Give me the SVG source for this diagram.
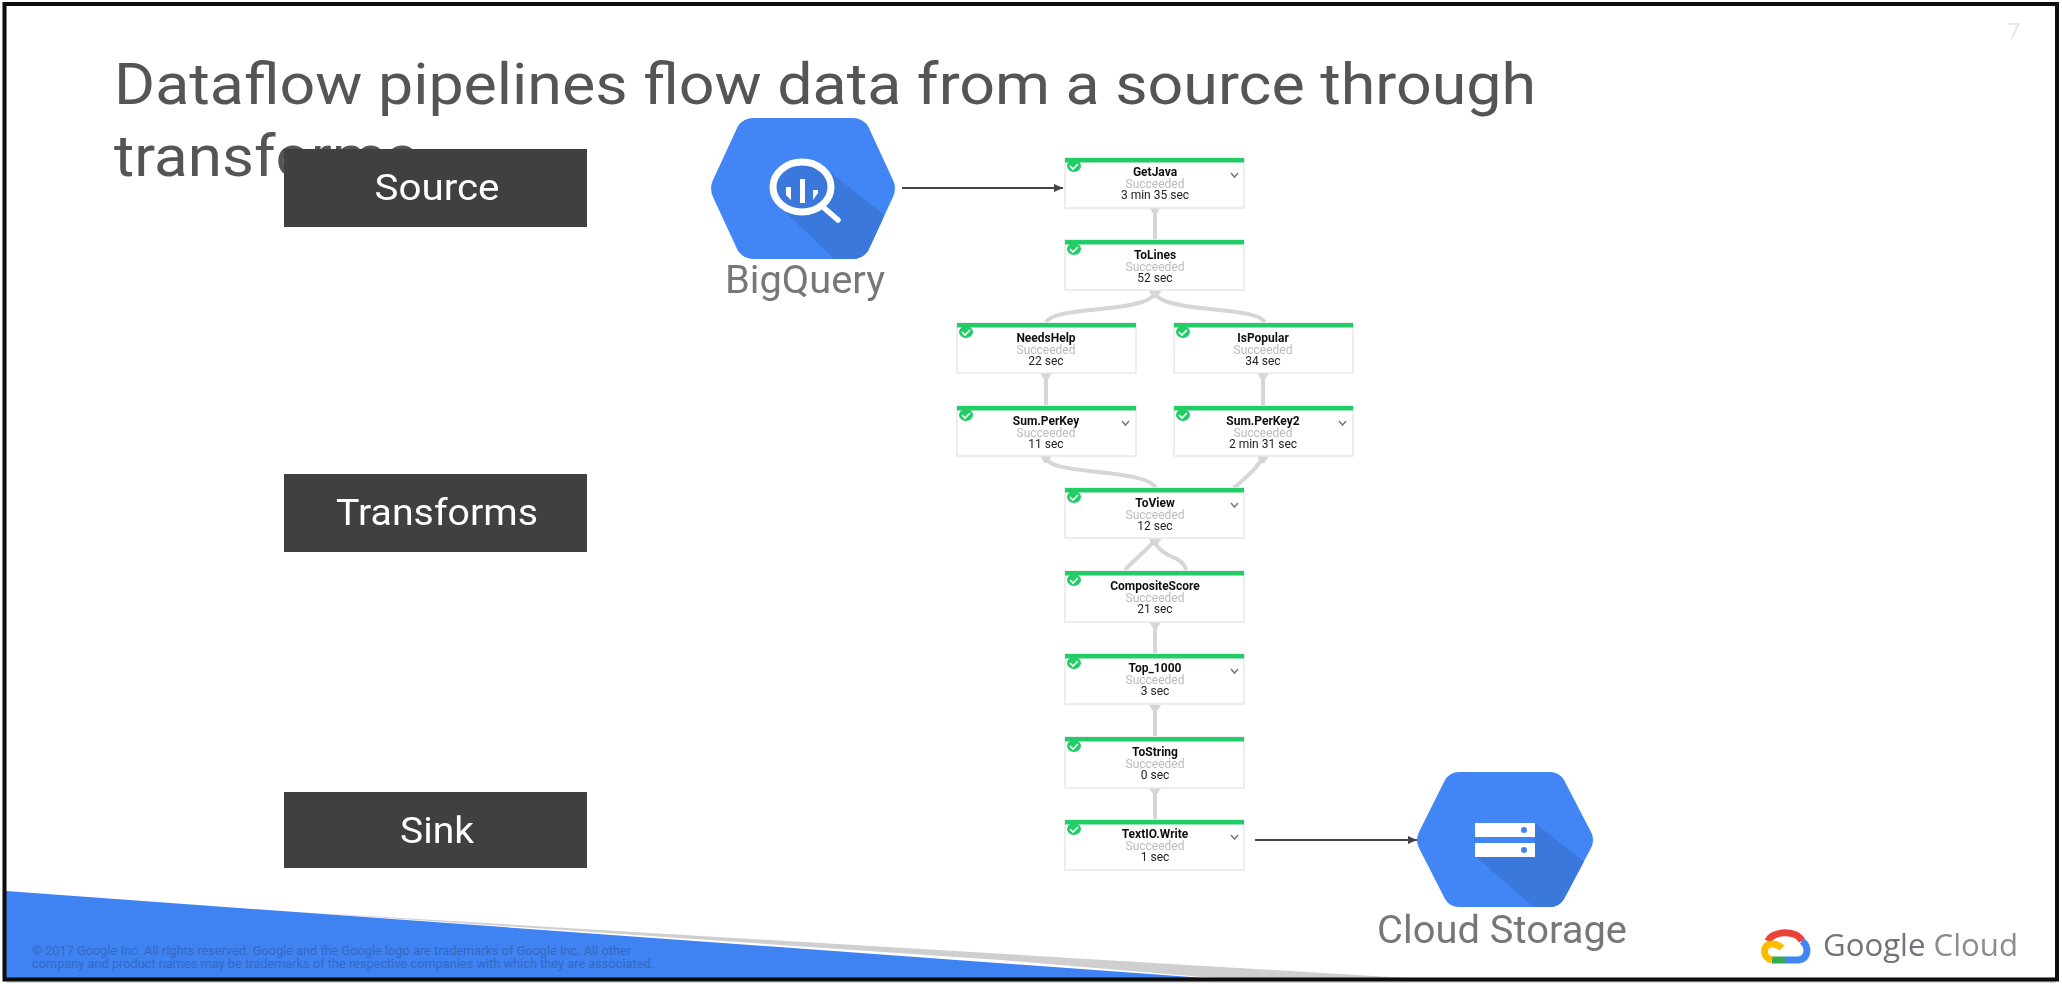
<svg xmlns="http://www.w3.org/2000/svg" width="2062" height="984" viewBox="0 0 2062 984">
<style>
.ttl{font-family:Roboto,"Liberation Sans",sans-serif;font-size:57px;fill:#555}
.lab{font-family:Roboto,"Liberation Sans",sans-serif;font-size:36px;fill:#fff;text-anchor:middle}
.svc{font-family:Roboto,"Liberation Sans",sans-serif;font-size:38px;fill:#777;text-anchor:middle}
.box{fill:#fff;stroke:#e8e8e8;stroke-width:1.5}
.bar{fill:#22cc66}
.chk{fill:#22cc66}
.tick{fill:none;stroke:#fff;stroke-width:1.6}
.n1{font-family:Roboto,"Liberation Sans",sans-serif;font-size:12px;font-weight:700;fill:#111;text-anchor:middle}
.n2{font-family:Roboto,"Liberation Sans",sans-serif;font-size:12px;fill:#bbb;text-anchor:middle}
.n3{font-family:Roboto,"Liberation Sans",sans-serif;font-size:12px;fill:#222;text-anchor:middle}
.chev{fill:none;stroke:#777;stroke-width:1.5}
.edge{fill:none;stroke:#d6d6d6;stroke-width:4;marker-start:url(#fan)}
.dark{fill:none;stroke:#444;stroke-width:2;marker-end:url(#head)}
.foot{font-family:Roboto,"Liberation Sans",sans-serif;font-size:12px;fill:#3469c4}
</style>
<defs>
<filter id="soft" x="-5%" y="-5%" width="110%" height="110%"><feGaussianBlur stdDeviation="0.7"/></filter>
<filter id="softer" x="-5%" y="-5%" width="110%" height="110%"><feGaussianBlur stdDeviation="0.6"/></filter>
<marker id="fan" markerUnits="userSpaceOnUse" markerWidth="14" markerHeight="8" refX="7" refY="0" orient="0"><path d="M1 0H13L8.500 7H5.500Z" fill="#d6d6d6"/></marker>
<marker id="head" markerUnits="userSpaceOnUse" markerWidth="10" markerHeight="8" refX="9" refY="4" orient="auto"><path d="M0 0L9 4L0 8Z" fill="#444"/></marker>
<clipPath id="hexA"><path d="M753 118H853Q862 118 868 126L893 180Q897 188 893 197L868 251Q862 259 853 259H753Q744 259 738 251L713 197Q709 188 713 180L738 126Q744 118 753 118Z"/></clipPath>
<clipPath id="hexB"><path d="M1459 772H1550Q1559 772 1564 780L1591 832Q1595 840 1591 848L1564 899Q1559 907 1550 907H1459Q1450 907 1445 899L1419 848Q1415 840 1419 832L1445 780Q1450 772 1459 772Z"/></clipPath>
</defs>
<rect width="2062" height="984" fill="#fff"/>
<g id="footer">
<polygon points="300,912 1407,978 1214,978 1000,960" fill="#cfcfcf"/>
<polygon points="6,891 1205,978 6,978" fill="#3f82f1"/>
<text class="foot" x="32" y="955" textLength="599" lengthAdjust="spacingAndGlyphs">© 2017 Google Inc. All rights reserved. Google and the Google logo are trademarks of Google Inc. All other</text>
<text class="foot" x="32" y="968" textLength="622" lengthAdjust="spacingAndGlyphs">company and product names may be trademarks of the respective companies with which they are associated.</text>
</g>
<g id="frame" filter="url(#softer)">
<line x1="6" y1="982" x2="2056" y2="982" stroke="#ccc" stroke-width="1.5"/>
<rect x="4.500" y="4" width="2052.500" height="975.500" fill="none" stroke="#0a0a0a" stroke-width="4"/>
</g>
<text x="2014" y="39" font-family="Roboto,'Liberation Sans',sans-serif" font-size="22" fill="#e6e6e6" text-anchor="middle" filter="url(#soft)">7</text>
<g id="title" filter="url(#softer)">
<text class="ttl" x="114" y="104" textLength="1422" lengthAdjust="spacingAndGlyphs">Dataflow pipelines flow data from a source through</text>
<text class="ttl" x="114" y="176" textLength="304" lengthAdjust="spacingAndGlyphs">transforms</text>
</g>
<g id="source" filter="url(#softer)"><rect x="284" y="149" width="303" height="78" fill="#3f3f3f"/><text class="lab" x="437" y="200" textLength="125" lengthAdjust="spacingAndGlyphs">Source</text></g>
<g id="transforms" filter="url(#softer)"><rect x="284" y="474" width="303" height="78" fill="#3f3f3f"/><text class="lab" x="437" y="525" textLength="202" lengthAdjust="spacingAndGlyphs">Transforms</text></g>
<g id="sink" filter="url(#softer)"><rect x="284" y="792" width="303" height="76" fill="#3f3f3f"/><text class="lab" x="437" y="843" textLength="74" lengthAdjust="spacingAndGlyphs">Sink</text></g>
<g id="bigquery" filter="url(#softer)">
<path d="M753 118H853Q862 118 868 126L893 180Q897 188 893 197L868 251Q862 259 853 259H753Q744 259 738 251L713 197Q709 188 713 180L738 126Q744 118 753 118Z" fill="#4285f4"/>
<polygon clip-path="url(#hexA)" points="825,168 884,215 868,270 846,270 780,207" fill="#3b78dc"/>
<ellipse cx="802" cy="187" rx="29" ry="25" fill="#3b78dc" stroke="#fff" stroke-width="7"/>
<line x1="823" y1="207" x2="838" y2="220" stroke="#fff" stroke-width="5.500" stroke-linecap="round"/>
<rect x="800" y="179" width="5" height="24" fill="#fff"/>
<path d="M786 187H791V200L786 195Z" fill="#fff"/><path d="M813 190H818V193L813 200Z" fill="#fff"/>
<text class="svc" x="805" y="293" textLength="160" lengthAdjust="spacingAndGlyphs">BigQuery</text>
</g>
<g id="storage" filter="url(#softer)">
<path d="M1459 772H1550Q1559 772 1564 780L1591 832Q1595 840 1591 848L1564 899Q1559 907 1550 907H1459Q1450 907 1445 899L1419 848Q1415 840 1419 832L1445 780Q1450 772 1459 772Z" fill="#4285f4"/>
<polygon clip-path="url(#hexB)" points="1535,823 1592,868 1592,915 1543,915 1475,856 1535,856" fill="#3b78dc"/>
<rect x="1475" y="823" width="60" height="14" fill="#fff"/><rect x="1475" y="843" width="60" height="14" fill="#fff"/>
<circle cx="1524" cy="830" r="3" fill="#4285f4"/><circle cx="1524" cy="850" r="3" fill="#4285f4"/>
<text class="svc" x="1502" y="943" textLength="250" lengthAdjust="spacingAndGlyphs">Cloud Storage</text>
</g>
<g id="connectors" filter="url(#softer)">
<path class="edge" d="M1155 207V240"/>
<path class="edge" d="M1155 291C1155 302 1130 306 1100 309C1075 312 1052 313 1046 322"/>
<path class="edge" d="M1155 291C1155 302 1180 306 1210 309C1235 312 1258 313 1265 322"/>
<path class="edge" d="M1046 373V405"/>
<path class="edge" d="M1263 373V405"/>
<path class="edge" d="M1046 456C1046 465 1060 468 1098 472C1130 476 1150 478 1156 488"/>
<path class="edge" d="M1263 456C1260 465 1250 474 1234 488"/>
<path class="edge" d="M1155 539C1152 546 1138 556 1125 570"/>
<path class="edge" d="M1155 539C1155 550 1170 556 1177 559C1182 562 1185 565 1186 570"/>
<path class="edge" d="M1155 622V653"/>
<path class="edge" d="M1155 705V736"/>
<path class="edge" d="M1155 788V820"/>
<path class="dark" d="M902 188H1063"/>
<path class="dark" d="M1255 840H1417"/>
</g>
<g id="GetJava" filter="url(#soft)"><rect class="box" x="1065" y="158" width="179" height="50"/><rect class="bar" x="1065" y="158" width="179" height="4.500"/><ellipse class="chk" cx="1074" cy="166" rx="7" ry="6"/><path class="tick" d="M1070 166L1073 169L1078 164"/><text class="n1" x="1155" y="176">GetJava</text><text class="n2" x="1155" y="188">Succeeded</text><text class="n3" x="1155" y="199">3 min 35 sec</text><path class="chev" d="M1231 173L1234.500 177L1238 173"/></g>
<g id="ToLines" filter="url(#soft)"><rect class="box" x="1065" y="240" width="179" height="50"/><rect class="bar" x="1065" y="240" width="179" height="4.500"/><ellipse class="chk" cx="1074" cy="249" rx="7" ry="6"/><path class="tick" d="M1070 249L1073 252L1078 247"/><text class="n1" x="1155" y="259">ToLines</text><text class="n2" x="1155" y="271">Succeeded</text><text class="n3" x="1155" y="282">52 sec</text></g>
<g id="NeedsHelp" filter="url(#soft)"><rect class="box" x="957" y="323" width="179" height="50"/><rect class="bar" x="957" y="323" width="179" height="4.500"/><ellipse class="chk" cx="966" cy="332" rx="7" ry="6"/><path class="tick" d="M962 332L965 335L970 330"/><text class="n1" x="1046" y="342">NeedsHelp</text><text class="n2" x="1046" y="354">Succeeded</text><text class="n3" x="1046" y="365">22 sec</text></g>
<g id="IsPopular" filter="url(#soft)"><rect class="box" x="1174" y="323" width="179" height="50"/><rect class="bar" x="1174" y="323" width="179" height="4.500"/><ellipse class="chk" cx="1183" cy="332" rx="7" ry="6"/><path class="tick" d="M1179 332L1182 335L1187 330"/><text class="n1" x="1263" y="342">IsPopular</text><text class="n2" x="1263" y="354">Succeeded</text><text class="n3" x="1263" y="365">34 sec</text></g>
<g id="SumPerKey" filter="url(#soft)"><rect class="box" x="957" y="406" width="179" height="50"/><rect class="bar" x="957" y="406" width="179" height="4.500"/><ellipse class="chk" cx="966" cy="415" rx="7" ry="6"/><path class="tick" d="M962 415L965 418L970 413"/><text class="n1" x="1046" y="425">Sum.PerKey</text><text class="n2" x="1046" y="437">Succeeded</text><text class="n3" x="1046" y="448">11 sec</text><path class="chev" d="M1122 421L1125.500 425L1129 421"/></g>
<g id="SumPerKey2" filter="url(#soft)"><rect class="box" x="1174" y="406" width="179" height="50"/><rect class="bar" x="1174" y="406" width="179" height="4.500"/><ellipse class="chk" cx="1183" cy="415" rx="7" ry="6"/><path class="tick" d="M1179 415L1182 418L1187 413"/><text class="n1" x="1263" y="425">Sum.PerKey2</text><text class="n2" x="1263" y="437">Succeeded</text><text class="n3" x="1263" y="448">2 min 31 sec</text><path class="chev" d="M1339 421L1342.500 425L1346 421"/></g>
<g id="ToView" filter="url(#soft)"><rect class="box" x="1065" y="488" width="179" height="50"/><rect class="bar" x="1065" y="488" width="179" height="4.500"/><ellipse class="chk" cx="1074" cy="497" rx="7" ry="6"/><path class="tick" d="M1070 497L1073 500L1078 495"/><text class="n1" x="1155" y="507">ToView</text><text class="n2" x="1155" y="519">Succeeded</text><text class="n3" x="1155" y="530">12 sec</text><path class="chev" d="M1231 503L1234.500 507L1238 503"/></g>
<g id="CompositeScore" filter="url(#soft)"><rect class="box" x="1065" y="571" width="179" height="51"/><rect class="bar" x="1065" y="571" width="179" height="4.500"/><ellipse class="chk" cx="1074" cy="580" rx="7" ry="6"/><path class="tick" d="M1070 580L1073 583L1078 578"/><text class="n1" x="1155" y="590">CompositeScore</text><text class="n2" x="1155" y="602">Succeeded</text><text class="n3" x="1155" y="613">21 sec</text></g>
<g id="Top1000" filter="url(#soft)"><rect class="box" x="1065" y="654" width="179" height="50"/><rect class="bar" x="1065" y="654" width="179" height="4.500"/><ellipse class="chk" cx="1074" cy="663" rx="7" ry="6"/><path class="tick" d="M1070 663L1073 666L1078 661"/><text class="n1" x="1155" y="672">Top_1000</text><text class="n2" x="1155" y="684">Succeeded</text><text class="n3" x="1155" y="695">3 sec</text><path class="chev" d="M1231 669L1234.500 673L1238 669"/></g>
<g id="ToString" filter="url(#soft)"><rect class="box" x="1065" y="737" width="179" height="51"/><rect class="bar" x="1065" y="737" width="179" height="4.500"/><ellipse class="chk" cx="1074" cy="746" rx="7" ry="6"/><path class="tick" d="M1070 746L1073 749L1078 744"/><text class="n1" x="1155" y="756">ToString</text><text class="n2" x="1155" y="768">Succeeded</text><text class="n3" x="1155" y="779">0 sec</text></g>
<g id="TextIOWrite" filter="url(#soft)"><rect class="box" x="1065" y="820" width="179" height="50"/><rect class="bar" x="1065" y="820" width="179" height="4.500"/><ellipse class="chk" cx="1074" cy="829" rx="7" ry="6"/><path class="tick" d="M1070 829L1073 832L1078 827"/><text class="n1" x="1155" y="838">TextIO.Write</text><text class="n2" x="1155" y="850">Succeeded</text><text class="n3" x="1155" y="861">1 sec</text><path class="chev" d="M1231 835L1234.500 839L1238 835"/></g>
<g id="googlecloud" filter="url(#softer)">
<g fill="none" stroke-width="7">
<path d="M1768 941C1772 931 1796 929 1802 941" stroke="#ea4335"/>
<path d="M1802 941C1809 946 1809 958 1799 960H1785" stroke="#4285f4"/>
<path d="M1785 960H1772" stroke="#34a853"/>
<path d="M1772 960C1762 958 1762 944 1772 944C1776 944 1780 946 1782 948" stroke="#fbbc05"/>
</g>
<text x="1823" y="956" font-family="'Open Sans',Roboto,sans-serif" font-size="31" fill="#6f7378" textLength="195" lengthAdjust="spacingAndGlyphs">Google <tspan fill="#8a8d90">Cloud</tspan></text>
</g>
</svg>
